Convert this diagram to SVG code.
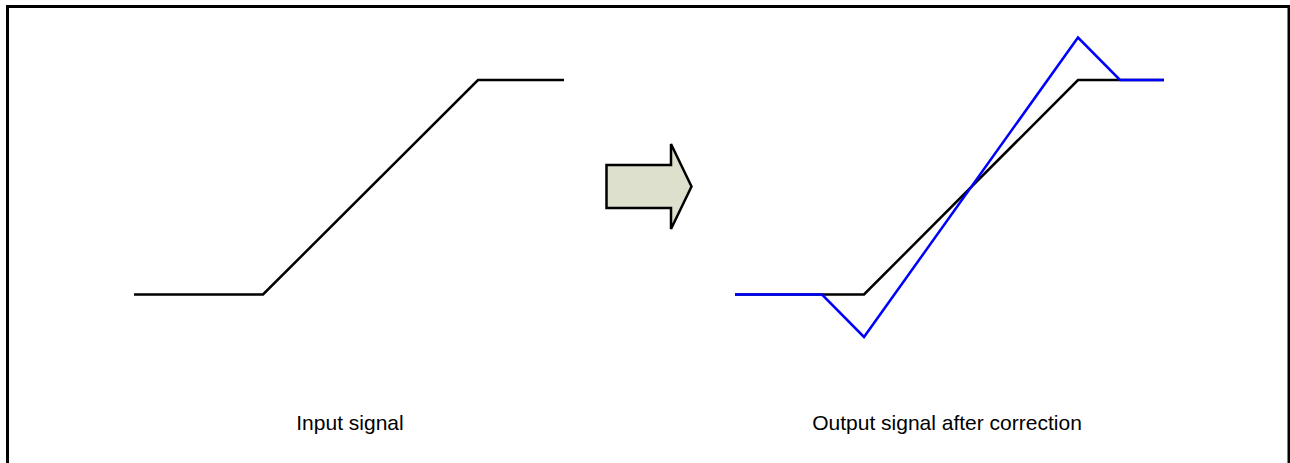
<svg xmlns="http://www.w3.org/2000/svg" width="1290" height="463" viewBox="0 0 1290 463">
<style>
.lbl{font-family:"Liberation Sans",Arial,sans-serif;font-size:21px;fill:#000;text-anchor:middle}
.sig{fill:none;stroke-width:2.5;stroke-linejoin:miter}
</style>
<rect x="0" y="0" width="1290" height="463" fill="#fff"/>
<rect x="7.5" y="6.5" width="1281.5" height="480" fill="none" stroke="#000" stroke-width="3"/>
<g id="input-signal">
<polyline class="sig" stroke="#000" points="134,294.5 263,294.5 478,80 564,80"/>
<text class="lbl" x="350" y="430">Input signal</text>
</g>
<g id="arrow">
<polygon points="606.5,165 671,165 671,144 691.5,186.5 671,229 671,208 606.5,208" fill="#dde0cc" stroke="#000" stroke-width="2.5" stroke-linejoin="miter"/>
</g>
<g id="output-signal">
<polyline class="sig" stroke="#000" points="735,294.5 864,294.5 1078,80 1164,80"/>
<polyline class="sig" stroke="#0000ff" points="735,294.5 822,294.5 864,337 1078,37.5 1120,80 1164,80"/>
<text class="lbl" x="947" y="430">Output signal after correction</text>
</g>
</svg>
